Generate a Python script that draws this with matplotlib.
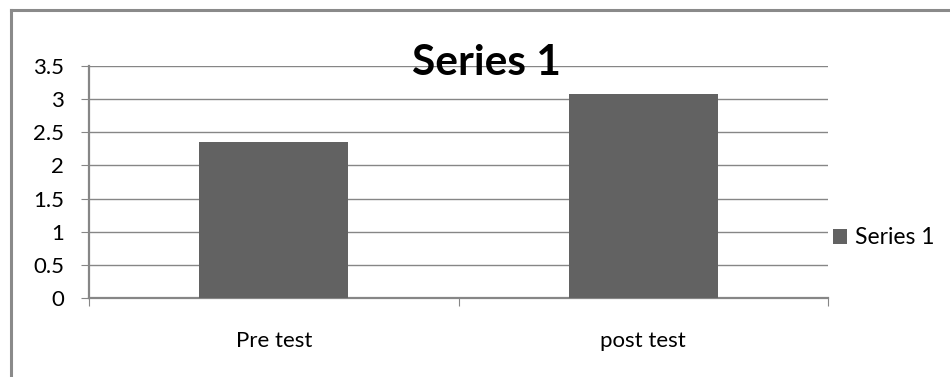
import matplotlib.pyplot as plt
from matplotlib.lines import Line2D
from matplotlib.ticker import FixedLocator, NullFormatter

plt.rcParams["font.family"] = ["Lato", "DejaVu Sans"]

categories = ["Pre test", "post test"]
series_1 = [2.35, 3.08]
yticks = [0, 0.5, 1, 1.5, 2, 2.5, 3, 3.5]

W, H = 950, 377
fig = plt.figure(figsize=(W / 100, H / 100), dpi=100)
ax = fig.add_axes([89 / W, 79 / H, (828 - 89) / W, (298 - 66) / H])

grid_c = "#868686"
pos = [i + 0.5 for i in range(len(categories))]
ax.bar(pos, series_1, width=0.403, color="#626262", zorder=3, label="Series 1")

ax.set_xlim(0, len(categories))
ax.set_ylim(0, 3.5)
ax.set_yticks(yticks)
ax.set_yticklabels([f"{v:g}" for v in yticks])
ax.yaxis.grid(True, color=grid_c, linewidth=1.0, zorder=0)

# category boundaries get the tick marks, names sit between them
ax.xaxis.set_major_locator(FixedLocator(range(len(categories) + 1)))
ax.xaxis.set_major_formatter(NullFormatter())
ax.xaxis.set_minor_locator(FixedLocator(pos))
ax.set_xticklabels(categories, minor=True)
ax.tick_params(axis="x", which="major", length=6, width=0.8, color=grid_c, direction="out")
ax.tick_params(axis="x", which="minor", length=0, pad=24, labelsize=16)
ax.tick_params(axis="y", length=6, width=0.8, color=grid_c, direction="out",
               pad=12, labelsize=16)

for side in ("top", "right"):
    ax.spines[side].set_visible(False)
for side in ("left", "bottom"):
    ax.spines[side].set_color(grid_c)
    ax.spines[side].set_linewidth(1.6)

fig.text(486 / W, 1 - 75 / H, "Series 1", fontsize=30.5, fontweight="bold",
         ha="center", va="baseline")

fig.legend(loc="center left", bbox_to_anchor=(833 / W, 1 - 238 / H), frameon=False,
           fontsize=16.5, handlelength=0.6, handleheight=0.6, handletextpad=0.35,
           borderpad=0, borderaxespad=0)

# outer chart frame (only top and left edges are visible)
fig.add_artist(Line2D([10.5 / W, 1], [1 - 10 / H, 1 - 10 / H], color="#8a8a8a",
                      linewidth=2.2, transform=fig.transFigure))
fig.add_artist(Line2D([11 / W, 11 / W], [0, 1 - 10 / H], color="#8a8a8a",
                      linewidth=2.2, transform=fig.transFigure))

fig.savefig("out.png", dpi=100)
